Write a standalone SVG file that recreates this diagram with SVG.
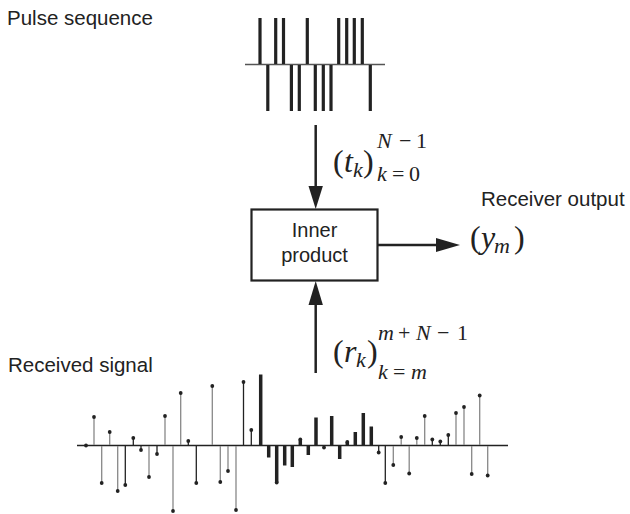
<svg xmlns="http://www.w3.org/2000/svg" width="630" height="514" viewBox="0 0 630 514">
<defs>
<style>
.lbl{font-family:"Liberation Sans",Arial,sans-serif;font-size:20.5px;fill:#222}
.box{font-family:"Liberation Sans",Arial,sans-serif;font-size:20px;fill:#222;text-anchor:middle}
.m{font-family:"Liberation Serif","Times New Roman",serif;font-size:32px;fill:#222}
.s{font-family:"Liberation Serif","Times New Roman",serif;font-size:22px;fill:#222}
.i{font-style:italic}
.pulse{stroke:#222;stroke-width:3.2}
.ax{stroke:#555;stroke-width:1.5}
.ax2{stroke:#222;stroke-width:1.5}
.thin{stroke:#888;stroke-width:1.3}
.thind{stroke:#222;stroke-width:1.3}
.thick{stroke:#222;stroke-width:3.5}
.dot{fill:#222}
.conn{stroke:#222;stroke-width:2.5;fill:none}
.head{fill:#222}
</style>
</defs>

<text class="lbl" x="7" y="25">Pulse sequence</text>
<text class="lbl" x="8" y="372">Received signal</text>
<text class="lbl" x="481" y="206">Receiver output</text>

<g id="pulse-sequence">
<line class="ax" x1="245" y1="64.5" x2="385" y2="64.5"/>
<line class="pulse" x1="260" y1="18" x2="260" y2="64"/>
<line class="pulse" x1="267.8" y1="65" x2="267.8" y2="111"/>
<line class="pulse" x1="275.7" y1="18" x2="275.7" y2="64"/>
<line class="pulse" x1="283.5" y1="18" x2="283.5" y2="64"/>
<line class="pulse" x1="291.4" y1="65" x2="291.4" y2="111"/>
<line class="pulse" x1="299.3" y1="65" x2="299.3" y2="111"/>
<line class="pulse" x1="307.3" y1="18" x2="307.3" y2="64"/>
<line class="pulse" x1="315.3" y1="65" x2="315.3" y2="111"/>
<line class="pulse" x1="323.3" y1="65" x2="323.3" y2="111"/>
<line class="pulse" x1="331" y1="65" x2="331" y2="111"/>
<line class="pulse" x1="338.7" y1="18" x2="338.7" y2="64"/>
<line class="pulse" x1="346.7" y1="18" x2="346.7" y2="64"/>
<line class="pulse" x1="354.3" y1="18" x2="354.3" y2="64"/>
<line class="pulse" x1="362.3" y1="18" x2="362.3" y2="64"/>
<line class="pulse" x1="370.3" y1="65" x2="370.3" y2="111"/>
</g>

<g id="inner-product">
<rect x="251.5" y="209.5" width="126" height="71" fill="#fff" stroke="#222" stroke-width="2.2"/>
<text class="box" x="314.5" y="237">Inner</text>
<text class="box" x="314.5" y="262">product</text>
</g>

<g id="t-label">
<text class="m"><tspan x="333" y="172">(</tspan><tspan class="i" x="344" y="172">t</tspan><tspan class="i s" x="353" y="177">k</tspan><tspan x="363" y="172">)</tspan><tspan class="s i" x="377" y="148">N</tspan><tspan class="s" x="399" y="148">−</tspan><tspan class="s" x="416" y="148">1</tspan><tspan class="s i" x="377" y="181">k</tspan><tspan class="s" x="392" y="181">=</tspan><tspan class="s" x="409" y="181">0</tspan></text>
</g>

<g id="y-label">
<text class="m"><tspan x="470" y="248">(</tspan><tspan class="i" x="481" y="248">y</tspan><tspan class="i s" x="494" y="253">m</tspan><tspan x="514" y="248">)</tspan></text>
</g>

<g id="r-label">
<text class="m"><tspan x="333" y="362">(</tspan><tspan class="i" x="344" y="362">r</tspan><tspan class="i s" x="356" y="367">k</tspan><tspan x="367" y="362">)</tspan><tspan class="s i" x="378" y="340">m</tspan><tspan class="s" x="398" y="340">+</tspan><tspan class="s i" x="416" y="340">N</tspan><tspan class="s" x="437" y="340">−</tspan><tspan class="s" x="457" y="340">1</tspan><tspan class="s i" x="378" y="379">k</tspan><tspan class="s" x="393" y="379">=</tspan><tspan class="s i" x="411" y="379">m</tspan></text>
</g>

<g id="received-signal">
<line class="ax2" x1="77" y1="445.5" x2="508" y2="445.5"/>
<g>
<line class="thin" x1="94" y1="445" x2="94" y2="417"/>
<line class="thin" x1="101.7" y1="446" x2="101.7" y2="483"/>
<line class="thin" x1="109.7" y1="445" x2="109.7" y2="432"/>
<line class="thin" x1="117.7" y1="446" x2="117.7" y2="491"/>
<line class="thind" x1="125.3" y1="446" x2="125.3" y2="485"/>
<line class="thind" x1="133.3" y1="445" x2="133.3" y2="438"/>
<line class="thind" x1="141" y1="446" x2="141" y2="450"/>
<line class="thin" x1="149" y1="446" x2="149" y2="477"/>
<line class="thind" x1="157" y1="446" x2="157" y2="454"/>
<line class="thin" x1="165" y1="445" x2="165" y2="416"/>
<line class="thin" x1="173" y1="446" x2="173" y2="511"/>
<line class="thin" x1="180.7" y1="445" x2="180.7" y2="393"/>
<line class="thind" x1="188.3" y1="445" x2="188.3" y2="441"/>
<line class="thind" x1="196.3" y1="446" x2="196.3" y2="483"/>
<line class="thin" x1="212.3" y1="445" x2="212.3" y2="386"/>
<line class="thin" x1="220.3" y1="446" x2="220.3" y2="482"/>
<line class="thin" x1="228" y1="446" x2="228" y2="471"/>
<line class="thin" x1="236" y1="446" x2="236" y2="510"/>
<line class="thind" x1="243.5" y1="445" x2="243.5" y2="382"/>
<line class="thind" x1="251.3" y1="445" x2="251.3" y2="430"/>
<line class="thind" x1="324" y1="446" x2="324" y2="447"/>
<line class="thind" x1="378.7" y1="446" x2="378.7" y2="452.5"/>
<line class="thind" x1="385.3" y1="446" x2="385.3" y2="483"/>
<line class="thin" x1="393.3" y1="446" x2="393.3" y2="465"/>
<line class="thin" x1="401.2" y1="445" x2="401.2" y2="437"/>
<line class="thin" x1="409.2" y1="446" x2="409.2" y2="473.5"/>
<line class="thin" x1="416.8" y1="445" x2="416.8" y2="438"/>
<line class="thin" x1="424.7" y1="445" x2="424.7" y2="416"/>
<line class="thind" x1="432.3" y1="445" x2="432.3" y2="439.5"/>
<line class="thind" x1="440.3" y1="445" x2="440.3" y2="441.5"/>
<line class="thind" x1="448.3" y1="445" x2="448.3" y2="435"/>
<line class="thin" x1="456" y1="445" x2="456" y2="413"/>
<line class="thin" x1="464" y1="445" x2="464" y2="407"/>
<line class="thin" x1="471.7" y1="446" x2="471.7" y2="474"/>
<line class="thin" x1="479.7" y1="445" x2="479.7" y2="395.5"/>
<line class="thin" x1="487.7" y1="446" x2="487.7" y2="475.5"/>
</g>
<g>
<line class="thick" x1="260.7" y1="445" x2="260.7" y2="374.5"/>
<line class="thick" x1="268.7" y1="446" x2="268.7" y2="457.5"/>
<line class="thick" x1="276.7" y1="446" x2="276.7" y2="482.5"/>
<line class="thick" x1="284.7" y1="446" x2="284.7" y2="465.5"/>
<line class="thick" x1="292.3" y1="446" x2="292.3" y2="467"/>
<line class="thick" x1="300.3" y1="445" x2="300.3" y2="439.5"/>
<line class="thick" x1="308.3" y1="446" x2="308.3" y2="455"/>
<line class="thick" x1="316" y1="445" x2="316" y2="417.5"/>
<line class="thick" x1="331.7" y1="445" x2="331.7" y2="416"/>
<line class="thick" x1="339.7" y1="446" x2="339.7" y2="459"/>
<line class="thick" x1="347.3" y1="445" x2="347.3" y2="442"/>
<line class="thick" x1="355.3" y1="445" x2="355.3" y2="432"/>
<line class="thick" x1="363.3" y1="445" x2="363.3" y2="413"/>
<line class="thick" x1="371.3" y1="445" x2="371.3" y2="426.5"/>
</g>
<g class="dot">
<circle cx="86" cy="445.5" r="1.9"/>
<circle cx="94" cy="417" r="1.9"/>
<circle cx="101.7" cy="483" r="1.9"/>
<circle cx="109.7" cy="432" r="1.9"/>
<circle cx="117.7" cy="491" r="1.9"/>
<circle cx="125.3" cy="485" r="1.9"/>
<circle cx="133.3" cy="438" r="1.9"/>
<circle cx="141" cy="450" r="1.9"/>
<circle cx="149" cy="477" r="1.9"/>
<circle cx="157" cy="454" r="1.9"/>
<circle cx="165" cy="416" r="1.9"/>
<circle cx="173" cy="511" r="1.9"/>
<circle cx="180.7" cy="393" r="1.9"/>
<circle cx="188.3" cy="441" r="1.9"/>
<circle cx="196.3" cy="483" r="1.9"/>
<circle cx="212.3" cy="386" r="1.9"/>
<circle cx="220.3" cy="482" r="1.9"/>
<circle cx="228" cy="471" r="1.9"/>
<circle cx="236" cy="510" r="1.9"/>
<circle cx="243.5" cy="382" r="1.9"/>
<circle cx="251.3" cy="430" r="1.9"/>
<circle cx="276.7" cy="482.5" r="1.9"/>
<circle cx="300.3" cy="439.5" r="1.9"/>
<circle cx="324" cy="447.5" r="1.9"/>
<circle cx="347.3" cy="442" r="1.9"/>
<circle cx="378.7" cy="452.5" r="1.9"/>
<circle cx="385.3" cy="483" r="1.9"/>
<circle cx="393.3" cy="465" r="1.9"/>
<circle cx="401.2" cy="437" r="1.9"/>
<circle cx="409.2" cy="473.5" r="1.9"/>
<circle cx="416.8" cy="438" r="1.9"/>
<circle cx="424.7" cy="416" r="1.9"/>
<circle cx="432.3" cy="439.5" r="1.9"/>
<circle cx="440.3" cy="441.5" r="1.9"/>
<circle cx="448.3" cy="435" r="1.9"/>
<circle cx="456" cy="413" r="1.9"/>
<circle cx="464" cy="407" r="1.9"/>
<circle cx="471.7" cy="474" r="1.9"/>
<circle cx="479.7" cy="395.5" r="1.9"/>
<circle cx="487.7" cy="475.5" r="1.9"/>
</g>
</g>

<g id="connectors">
<line class="conn" x1="315.7" y1="125" x2="315.7" y2="188"/>
<polygon class="head" points="308.5,186 322.9,186 315.7,209"/>
<line class="conn" x1="315.7" y1="373" x2="315.7" y2="303"/>
<polygon class="head" points="308.5,305 322.9,305 315.7,281"/>
<line class="conn" x1="378" y1="245" x2="438" y2="245"/>
<polygon class="head" points="436,238 436,252 460,245"/>
</g>
</svg>
